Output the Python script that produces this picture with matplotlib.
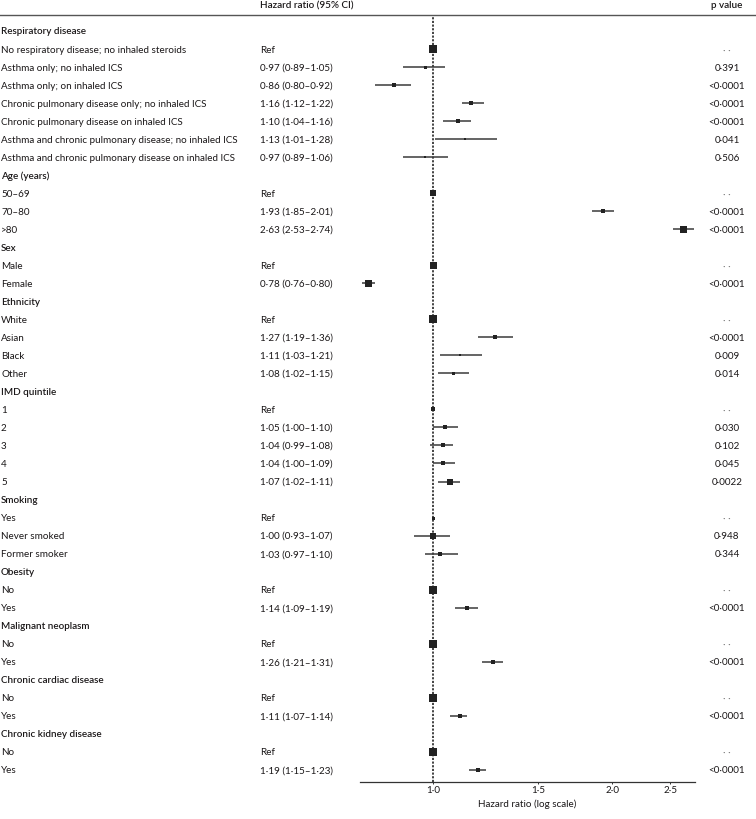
import matplotlib
matplotlib.use("Agg")
import matplotlib.pyplot as plt
from matplotlib.transforms import blended_transform_factory
import numpy as np

plt.rcParams['font.family'] = ['Lato', 'DejaVu Sans']

# ---------------- data ----------------
labels = [
    "Respiratory disease",
    "No respiratory disease; no inhaled steroids",
    "Asthma only; no inhaled ICS",
    "Asthma only; on inhaled ICS",
    "Chronic pulmonary disease only; no inhaled ICS",
    "Chronic pulmonary disease on inhaled ICS",
    "Asthma and chronic pulmonary disease; no inhaled ICS",
    "Asthma and chronic pulmonary disease on inhaled ICS",
    "Age (years)",
    "50–69", "70–80", ">80",
    "Sex",
    "Male", "Female",
    "Ethnicity",
    "White", "Asian", "Black", "Other",
    "IMD quintile",
    "1", "2", "3", "4", "5",
    "Smoking",
    "Yes", "Never smoked", "Former smoker",
    "Obesity",
    "No", "Yes",
    "Malignant neoplasm",
    "No", "Yes",
    "Chronic cardiac disease",
    "No", "Yes",
    "Chronic kidney disease",
    "No", "Yes",
]
is_header = [
    True, False, False, False, False, False, False, False,
    True, False, False, False,
    True, False, False,
    True, False, False, False, False,
    True, False, False, False, False, False,
    True, False, False, False,
    True, False, False,
    True, False, False,
    True, False, False,
    True, False, False,
]
# None for header rows; hr==1 with no CI for reference rows
hr = [None, 1.0, 0.97, 0.86, 1.16, 1.10, 1.13, 0.97,
      None, 1.0, 1.93, 2.63,
      None, 1.0, 0.78,
      None, 1.0, 1.27, 1.11, 1.08,
      None, 1.0, 1.05, 1.04, 1.04, 1.07,
      None, 1.0, 1.00, 1.03,
      None, 1.0, 1.14,
      None, 1.0, 1.26,
      None, 1.0, 1.11,
      None, 1.0, 1.19]
ci_lo = [None, None, 0.89, 0.80, 1.12, 1.04, 1.01, 0.89,
         None, None, 1.85, 2.53,
         None, None, 0.76,
         None, None, 1.19, 1.03, 1.02,
         None, None, 1.00, 0.99, 1.00, 1.02,
         None, None, 0.93, 0.97,
         None, None, 1.09,
         None, None, 1.21,
         None, None, 1.07,
         None, None, 1.15]
ci_hi = [None, None, 1.05, 0.92, 1.22, 1.16, 1.28, 1.06,
         None, None, 2.01, 2.74,
         None, None, 0.80,
         None, None, 1.36, 1.21, 1.15,
         None, None, 1.10, 1.08, 1.09, 1.11,
         None, None, 1.07, 1.10,
         None, None, 1.19,
         None, None, 1.31,
         None, None, 1.14,
         None, None, 1.23]
p_values = ["", "· ·", "0·391", "<0·0001", "<0·0001", "<0·0001", "0·041", "0·506",
            "", "· ·", "<0·0001", "<0·0001",
            "", "· ·", "<0·0001",
            "", "· ·", "<0·0001", "0·009", "0·014",
            "", "· ·", "0·030", "0·102", "0·045", "0·0022",
            "", "· ·", "0·948", "0·344",
            "", "· ·", "<0·0001",
            "", "· ·", "<0·0001",
            "", "· ·", "<0·0001",
            "", "· ·", "<0·0001"]
# box size (weight) per row, in pixels
box_px = [0, 7.5, 3, 4, 4, 4, 2, 2.5,
          0, 6, 5, 7,
          0, 7, 7,
          0, 8, 3.5, 2.5, 3,
          0, 4.5, 5, 5, 5, 6,
          0, 3, 6, 5,
          0, 8, 4,
          0, 8, 4,
          0, 7.5, 5,
          0, 8.5, 5]
x_ticks = [1.0, 1.5, 2.0, 2.5]
x_tick_labels = ["1·0", "1·5", "2·0", "2·5"]


def fmt(v):
    return f"{v:.2f}".replace(".", "·")


W, H = 756, 820
fig = plt.figure(figsize=(W / 100, H / 100), dpi=100)
TXT = "#1a1718"

ax_left, ax_right = 360 / W, 695 / W
ax_top_px, ax_bot_px = 18, 783
ax = fig.add_axes([ax_left, 1 - ax_bot_px / H, ax_right - ax_left,
                   (ax_bot_px - ax_top_px) / H])
row0, step = 32.0, 18.02
ax.set_xscale("log")
ax.set_xlim(0.755, 2.75)
ax.set_ylim((ax_bot_px - row0) / step, (ax_top_px - row0) / step)
for s in ("left", "top", "right"):
    ax.spines[s].set_visible(False)
ax.spines["bottom"].set_color("#333333")
ax.spines["bottom"].set_linewidth(0.9)
ax.set_yticks([])
ax.set_xticks(x_ticks)
ax.set_xticklabels(x_tick_labels)
ax.xaxis.set_minor_locator(matplotlib.ticker.NullLocator())
fs = 7.15
ax.tick_params(axis="x", length=1.5, width=0.7, color="#333333",
               labelsize=fs, labelcolor=TXT, pad=1)
ax.set_xlabel("Hazard ratio (log scale)", fontsize=fs, color=TXT, labelpad=3)
ax.axvline(1.0, color="#111111", lw=1.1, ls=(0, (1.4, 1.0)), zorder=1)

for i in range(len(labels)):
    if hr[i] is None:
        continue
    if ci_lo[i] is not None:
        ax.plot([ci_lo[i], ci_hi[i]], [i, i], color="#3a3a3a", lw=1.1,
                solid_capstyle="butt", zorder=2)
    ax.plot([hr[i]], [i], marker="s", ms=box_px[i] * 0.72,
            color="#222222", mec="#222222", mew=0, zorder=3, ls="none")

tr = blended_transform_factory(fig.transFigure, ax.transData)
for i, lab in enumerate(labels):
    ax.text(1 / W, i, lab, transform=tr, fontsize=fs, color=TXT,
            va="center", ha="left",
            fontweight="semibold" if is_header[i] else "normal", clip_on=False)
    if not is_header[i]:
        if ci_lo[i] is None:
            s = "Ref"
        else:
            s = f"{fmt(hr[i])} ({fmt(ci_lo[i])}–{fmt(ci_hi[i])})"
        ax.text(260 / W, i, s, transform=tr, fontsize=fs, color=TXT,
                va="center", ha="left", clip_on=False)
        pcol = "#777777" if p_values[i] == "· ·" else TXT
        ax.text(727 / W, i, p_values[i], transform=tr, fontsize=fs,
                color=pcol, va="center", ha="center", clip_on=False)

# column headers and rule
fig.text(260 / W, 1 - 6 / H, "Hazard ratio (95% CI)", fontsize=fs,
         fontweight="semibold", color=TXT, va="center", ha="left")
fig.text(727 / W, 1 - 6 / H, "p value", fontsize=fs,
         fontweight="semibold", color=TXT, va="center", ha="center")
fig.add_artist(plt.Line2D([0, 1], [1 - 16 / H, 1 - 16 / H],
                          transform=fig.transFigure, color="#555555", lw=1.0))

fig.savefig("out.png", dpi=100, facecolor="white")
